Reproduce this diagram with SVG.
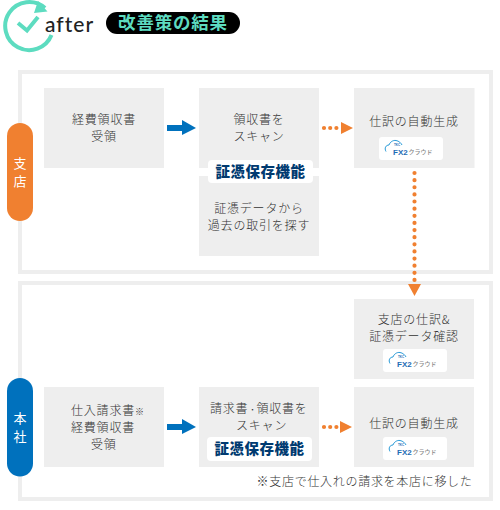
<svg xmlns="http://www.w3.org/2000/svg" width="500" height="510" viewBox="0 0 500 510">
<style>
text{font-family:"Noto Sans CJK JP","Noto Sans",sans-serif}
.frame{fill:none;stroke:#eeeeee;stroke-width:4}
.box{fill:#eeeeee}
.t{font-size:12px;letter-spacing:.8px;fill:#333;text-anchor:middle;font-weight:300}
.badge{fill:#fff}
.bt{font-size:14.5px;letter-spacing:.5px;font-weight:900;fill:#003a70;text-anchor:middle}
.pt{font-size:13px;fill:#fff;text-anchor:middle;font-weight:400}
.lg{fill:#fff}
.cl{fill:none;stroke:#2a9bd8;stroke-width:1}
.fx{font-family:"Liberation Sans",sans-serif;font-size:8px;font-weight:700;fill:#1f6db5}
.tk{font-family:"Liberation Sans",sans-serif;font-size:3px;font-weight:700;fill:#1f6db5}
.kr{font-size:6px;fill:#888;font-weight:500}
.dots{fill:none;stroke:#f08030;stroke-width:4.2;stroke-linecap:round}
.oh{fill:#f08030}
.bh{fill:#0071bd}
</style>
<g id="header">
<path d="M45 8A24 24 0 1 0 51.500 35" fill="none" stroke="#5ddcc0" stroke-width="4"/>
<path d="M38 1L47.500 11.500L34 13Z" fill="#5ddcc0"/>
<path d="M18 23L27 30.500L38 17" fill="none" stroke="#5ddcc0" stroke-width="4"/>
<text x="45" y="32" style="font-family:Lato,sans-serif;font-size:21px;letter-spacing:1px;font-weight:500" fill="#222">after</text>
<rect x="106" y="12" width="134" height="22" rx="11" fill="#000"/>
<text x="173" y="29" style="font-size:17.500px;letter-spacing:.8px;font-weight:700;text-anchor:middle" fill="#5ddcc0">改善策の結果</text>
</g>
<g id="frame-shiten"><rect class="frame" x="20" y="72" width="471" height="200"/></g>
<g id="frame-honsha"><rect class="frame" x="20" y="283" width="471" height="216"/></g>
<g id="label-shiten">
<rect x="7" y="123" width="26" height="98" rx="13" fill="#f08030"/>
<text class="pt"><tspan x="20" y="167.500">支</tspan><tspan x="20" y="186">店</tspan></text>
</g>
<g id="label-honsha">
<rect x="7" y="378" width="26" height="98.500" rx="13" fill="#0071bd"/>
<text class="pt"><tspan x="20" y="422.500">本</tspan><tspan x="20" y="441">社</tspan></text>
</g>
<g id="node-receipt">
<rect class="box" x="44" y="88" width="120" height="80"/>
<text class="t"><tspan x="104" y="124">経費領収書</tspan><tspan x="104" y="141">受領</tspan></text>
</g>
<g id="node-scan">
<rect class="box" x="199" y="88" width="120" height="80"/>
<text class="t"><tspan x="259" y="124">領収書を</tspan><tspan x="259" y="141">スキャン</tspan></text>
</g>
<g id="node-search">
<rect class="box" x="199" y="176" width="120" height="80"/>
<text class="t"><tspan x="259" y="213">証憑データから</tspan><tspan x="259" y="230">過去の取引を探す</tspan></text>
</g>
<g id="badge-top">
<rect class="badge" x="208" y="160" width="105" height="23" rx="4"/>
<text class="bt" x="260.500" y="177">証憑保存機能</text>
</g>
<g id="node-auto-top">
<rect class="box" x="354" y="88" width="120.500" height="80"/>
<text class="t" x="414" y="126">仕訳の自動生成</text>
<g transform="translate(379 137)">
<rect class="lg" width="64" height="23" rx="3"/>
<path class="cl" d="M7 14.500C5 11 7 8 10 8C11 5 14 3 17 3.500C20 4 22 6 23 8"/>
<text class="tk" x="15" y="9">TKC</text><text class="fx" x="14" y="18">FX2</text><text class="kr" x="29.500" y="17">クラウド</text>
</g>
</g>
<g id="node-confirm">
<rect class="box" x="354" y="299" width="120" height="80"/>
<text class="t"><tspan x="414" y="324">支店の仕訳&amp;</tspan><tspan x="414" y="341">証憑データ確認</tspan></text>
<g transform="translate(383 349)">
<rect class="lg" width="64" height="23" rx="3"/>
<path class="cl" d="M7 14.500C5 11 7 8 10 8C11 5 14 3 17 3.500C20 4 22 6 23 8"/>
<text class="tk" x="15" y="9">TKC</text><text class="fx" x="14" y="18">FX2</text><text class="kr" x="29.500" y="17">クラウド</text>
</g>
</g>
<g id="node-invoice">
<rect class="box" x="44" y="387" width="120" height="80"/>
<text class="t" style="text-anchor:start"><tspan x="71" y="415">仕入請求書<tspan style="font-size:9px">※</tspan></tspan><tspan x="71" y="432">経費領収書</tspan><tspan x="91" y="449">受領</tspan></text>
</g>
<g id="node-scan2">
<rect class="box" x="199" y="387" width="120" height="80"/>
<text class="t" style="text-anchor:start"><tspan x="210" y="413">請求書<tspan style="font-size:8px;letter-spacing:0">・</tspan>領収書を</tspan><tspan x="236" y="430">スキャン</tspan></text>
</g>
<g id="badge-bottom">
<rect class="badge" x="207" y="437" width="105" height="24" rx="4"/>
<text class="bt" x="259.500" y="454">証憑保存機能</text>
</g>
<g id="node-auto-bottom">
<rect class="box" x="354" y="387" width="120" height="80"/>
<text class="t" x="414" y="428">仕訳の自動生成</text>
<g transform="translate(383 437)">
<rect class="lg" width="64" height="23" rx="3"/>
<path class="cl" d="M7 14.500C5 11 7 8 10 8C11 5 14 3 17 3.500C20 4 22 6 23 8"/>
<text class="tk" x="15" y="9">TKC</text><text class="fx" x="14" y="18">FX2</text><text class="kr" x="29.500" y="17">クラウド</text>
</g>
</g>
<g id="note">
<text class="t" x="472.500" y="486" style="text-anchor:end;letter-spacing:.7px">※支店で仕入れの請求を本店に移した</text>
</g>
<g id="connectors">
<path class="bh" d="M167 125H182V120L196 128L182 135V131H167Z"/>
<path class="bh" d="M167 424H182V419L196 427L182 434V430H167Z"/>
<path class="dots" stroke-dasharray="0 6.200" d="M324 128H338"/>
<path class="oh" d="M341 122L353 128L341 134Z"/>
<path class="dots" stroke-dasharray="0 6.200" d="M324 427H338"/>
<path class="oh" d="M340 421L352 427L340 433Z"/>
<path class="dots" stroke-dasharray="0 7.130" d="M414.500 173V281"/>
<path class="oh" d="M408 284H421L414.500 296Z"/>
</g>
</svg>
